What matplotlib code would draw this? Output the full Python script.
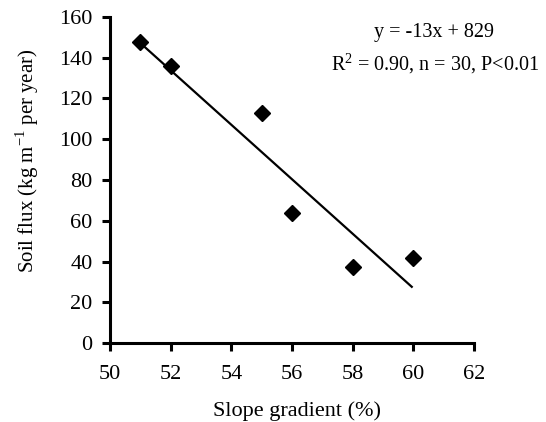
import matplotlib
matplotlib.use("Agg")
import matplotlib.pyplot as plt

slope_gradient = [51, 52, 55, 56, 58, 60]
soil_flux = [147.6, 135.8, 112.8, 64.0, 37.5, 41.5]
fit_x = [51.05, 59.95]
fit_y = [146.5, 27.6]
x_ticks = [50, 52, 54, 56, 58, 60, 62]
y_ticks = [0, 20, 40, 60, 80, 100, 120, 140, 160]

plt.rcParams['font.family'] = ['Liberation Serif', 'DejaVu Serif']
plt.rcParams['mathtext.fontset'] = 'custom'
plt.rcParams['mathtext.rm'] = 'Liberation Serif'

fig = plt.figure(figsize=(5.46, 4.22), dpi=100)
ax = fig.add_axes([0.2015, 0.187, 0.6665, 0.773])

ax.plot(fit_x, fit_y, color='black', lw=1.6)
ax.plot(slope_gradient, soil_flux, linestyle='none', marker='D', ms=8,
        color='black')

ax.set_xlim(50, 62)
ax.set_ylim(0, 160)
ax.set_xticks(x_ticks)
ax.set_yticks(y_ticks)
for s in ['top', 'right']:
    ax.spines[s].set_visible(False)
for s in ['left', 'bottom']:
    ax.spines[s].set_linewidth(2.2)
ax.tick_params(width=2.2, length=5.5, labelsize=16, direction='out')
ax.tick_params(axis='x', pad=10)
ax.tick_params(axis='y', pad=7)

ax.set_xlabel('Slope gradient (%)', fontsize=16)
ax.xaxis.set_label_coords(0.515, -0.178)
ax.set_ylabel(r'Soil flux (kg m$^{\mathregular{-1}}$ per year)', fontsize=15)
ax.yaxis.set_label_coords(-0.19, 0.56)

fig.text(0.794, 0.924, 'y = -13x + 829', fontsize=14.5, ha='center', va='center')
fig.text(0.797, 0.850, r'R$^{\mathregular{2}}$ = 0.90, n = 30, P<0.01', fontsize=14.5,
         ha='center', va='center')

fig.savefig('out.png', dpi=100)
